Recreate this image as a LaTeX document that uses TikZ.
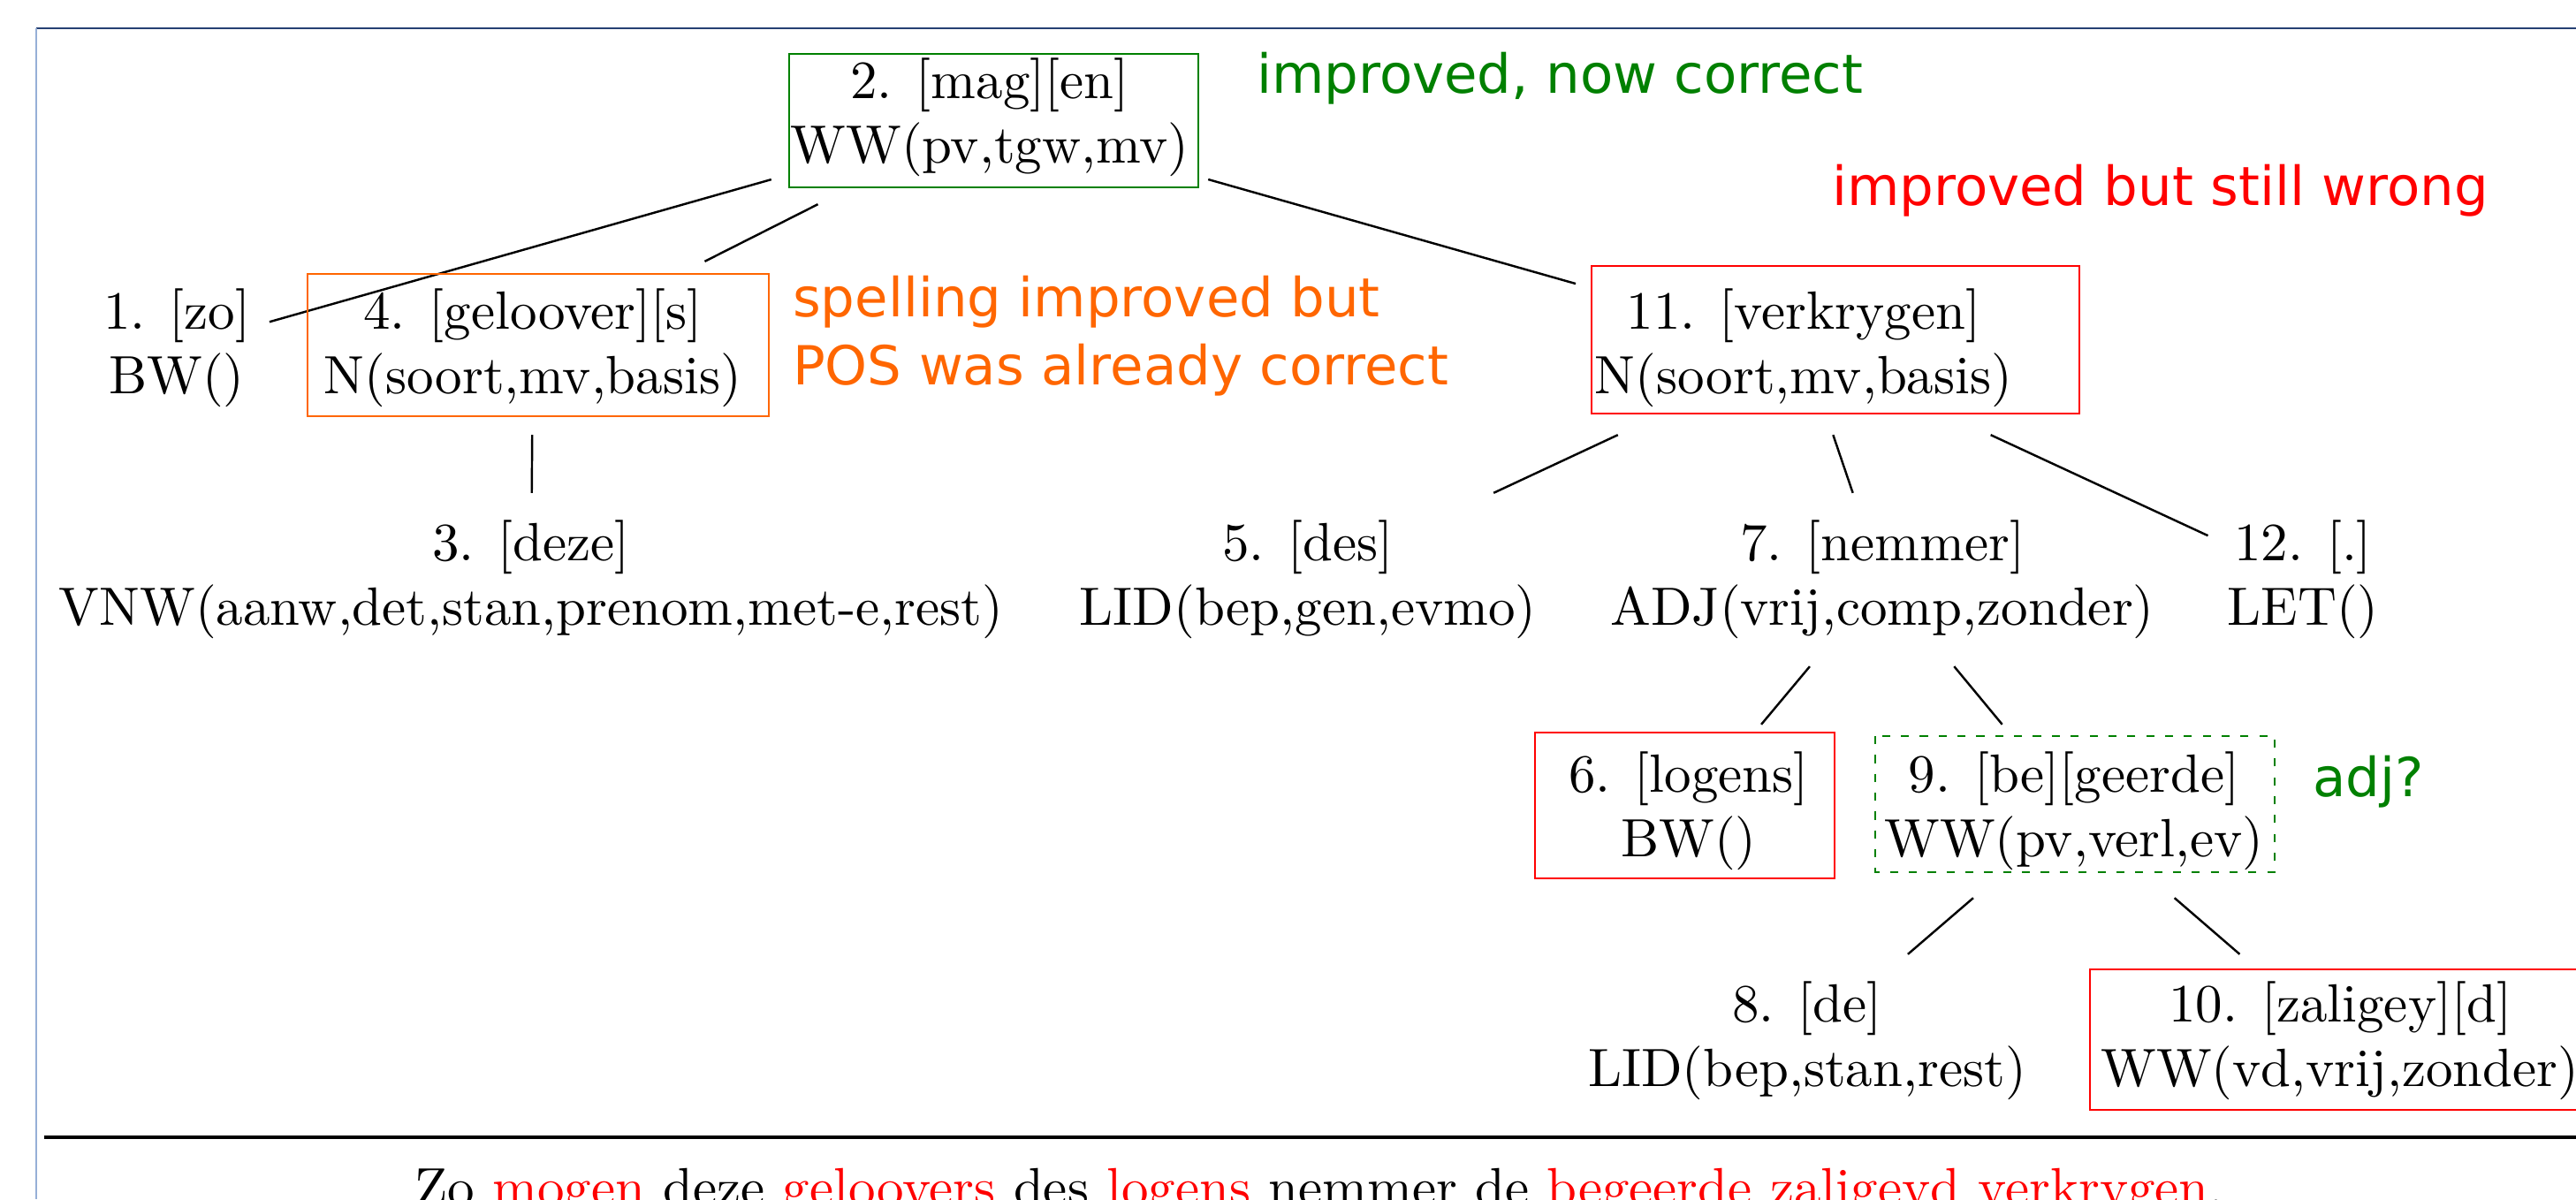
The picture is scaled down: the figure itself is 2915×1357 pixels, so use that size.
\documentclass[tikz,border=0pt]{standalone}
\usepackage{fontspec}
\newfontfamily\notefont{DejaVu Sans}
\definecolor{okgreen}{RGB}{0,128,0}
\definecolor{fixorange}{RGB}{255,102,0}
\definecolor{framedark}{RGB}{38,64,115}
\definecolor{framelight}{RGB}{150,175,215}
\tikzset{word node/.style={align=center, inner xsep=3.4pt, inner ysep=4.9pt},
         note/.style={font=\notefont, inner sep=0pt},}

\begin{document}
\begin{tikzpicture}[x=0.164pt, y=-0.164pt]
        \useasboundingbox (0,0) rectangle (2915,1357);
        % Frame
        \draw[framedark, line width=0.25pt] (41,32) -- (2915,32);
        \draw[framelight, line width=0.25pt] (41,32) -- (41,1357);
        % Nodes
        \node[word node] (2) at (1120,133) {2. [mag][en]\\WW(pv,tgw,mv)};
        \node[word node] (1) at (200,394) {1. [zo]\\BW()};
        \node[word node] (4) at (603,394) {4. [geloover][s]\\N(soort,mv,basis)};
        \node[word node] (11) at (2041,394) {11. [verkrygen]\\N(soort,mv,basis)};
        \node[word node] (3) at (601,656) {3. [deze]\\VNW(aanw,det,stan,prenom,met-e,rest)};
        \node[word node] (5) at (1480,656) {5. [des]\\LID(bep,gen,evmo)};
        \node[word node] (7) at (2130,656) {7. [nemmer]\\ADJ(vrij,comp,zonder)};
        \node[word node] (12) at (2606,656) {12. [.]\\LET()};
        \node[word node] (6) at (1911,918) {6. [logens]\\BW()};
        \node[word node] (9) at (2347,918) {9. [be][geerde]\\WW(pv,verl,ev)};
        \node[word node] (8) at (2045,1178) {8. [de]\\LID(bep,stan,rest)};
        \node[word node] (10) at (2648,1178) {10. [zaligey][d]\\WW(vd,vrij,zonder)};
        % Paths
        \path[draw]
        (2) edge (1)
        (2) edge (4)
        (2) edge (11)
        (4) edge (3)
        (11) edge (5)
        (11) edge (7)
        (11) edge (12)
        (7) edge (6)
        (7) edge (9)
        (9) edge (8)
        (9) edge (10);
        % Boxes
        \draw[okgreen] ([shift={(-227,-72)}]2.center) rectangle ([shift={(236,79)}]2.center);
        \draw[fixorange] ([shift={(-255,-84)}]4.center) rectangle ([shift={(267,77)}]4.center);
        \draw[red] ([shift={(-240,-93)}]11.center) rectangle ([shift={(312,74)}]11.center);
        \draw[red] ([shift={(-174,-89)}]6.center) rectangle ([shift={(165,76)}]6.center);
        \draw[okgreen, dash pattern=on 1.5pt off 2pt] ([shift={(-225,-85)}]9.center) rectangle ([shift={(227,69)}]9.center);
        \draw[red] ([shift={(-283,-81)}]10.center) rectangle ([shift={(290,78)}]10.center);
        % Notes
        \node[note, text=okgreen, anchor=base west] (c2) at (1421,105) {improved, now correct};
        \node[note, text=red, anchor=base west] (c11) at (2072,232) {improved but still wrong};
        \node[note, text=fixorange, anchor=north west, align=left,
              font=\notefont\fontsize{10}{12.6}\selectfont] (c4) at (896,311) {spelling improved but\\POS was already correct};
        \node[note, text=okgreen, anchor=base west] (c9) at (2616,901) {adj?};
        % Sentence
        \draw[line width=0.6pt] (50,1287) -- (2915,1287);
        \node[anchor=base] (zin) at (1493,1364) {Zo \textcolor{red}{mogen} deze \textcolor{red}{geloovers} des \textcolor{red}{logens} nemmer de \textcolor{red}{begeerde zaligeyd verkrygen}.};
    \end{tikzpicture}
\end{document}
